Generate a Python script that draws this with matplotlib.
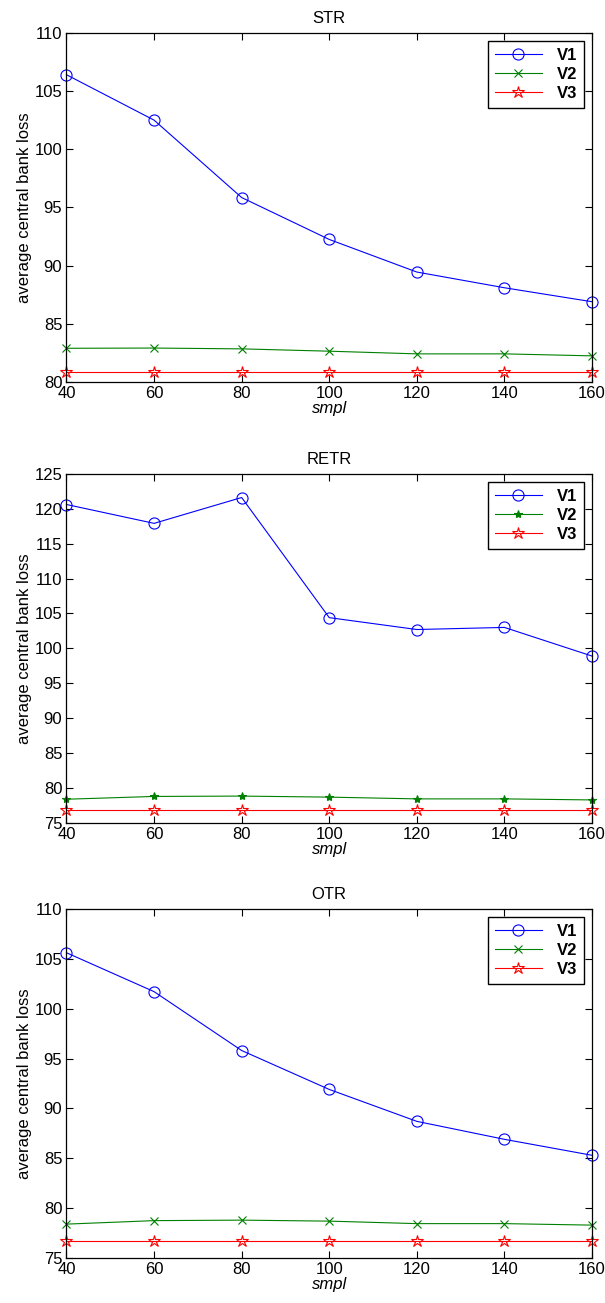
import matplotlib
matplotlib.use("Agg")
import matplotlib.pyplot as plt

plt.rcParams['font.family'] = ['Liberation Sans', 'DejaVu Sans']

smpl = [40, 60, 80, 100, 120, 140, 160]
titles = ["STR", "RETR", "OTR"]

str_v1 = [106.4, 102.5, 95.85, 92.25, 89.45, 88.1, 86.9]
str_v2 = [82.9, 82.92, 82.85, 82.65, 82.42, 82.42, 82.25]
str_v3 = [80.9, 80.9, 80.9, 80.9, 80.9, 80.9, 80.9]

retr_v1 = [120.6, 117.9, 121.6, 104.4, 102.7, 103.0, 98.9]
retr_v2 = [78.4, 78.8, 78.85, 78.7, 78.45, 78.45, 78.3]
retr_v3 = [76.8, 76.8, 76.8, 76.8, 76.8, 76.8, 76.8]

otr_v1 = [105.6, 101.7, 95.8, 91.9, 88.7, 86.9, 85.3]
otr_v2 = [78.4, 78.75, 78.8, 78.7, 78.45, 78.45, 78.3]
otr_v3 = [76.75, 76.75, 76.75, 76.75, 76.75, 76.75, 76.75]

ylims = [(80, 110), (75, 125), (75, 110)]
yticks = [list(range(80, 111, 5)), list(range(75, 126, 5)), list(range(75, 111, 5))]
v2_markers = ['x', '*', 'x']
data = [(str_v1, str_v2, str_v3), (retr_v1, retr_v2, retr_v3), (otr_v1, otr_v2, otr_v3)]

fig = plt.figure(figsize=(6.05, 13.03), dpi=100)
bottoms = [0.7068, 0.3684, 0.0345]
for i in range(3):
    ax = fig.add_axes([0.1099, bottoms[i], 0.8686, 0.268])
    v1, v2, v3 = data[i]
    ax.plot(smpl, v1, color='#0000ff', marker='o', markersize=8, markerfacecolor='none',
            markeredgewidth=0.8, linewidth=0.8, label='V1', clip_on=False)
    ax.plot(smpl, v2, color='#008000', marker=v2_markers[i], markersize=6,
            markeredgewidth=0.8, linewidth=0.8, label='V2', clip_on=False)
    ax.plot(smpl, v3, color='#ff0000', marker='*', markersize=9, markerfacecolor='none',
            markeredgewidth=0.8, linewidth=0.8, label='V3', clip_on=False)
    ax.set_xlim(40, 160)
    ax.set_ylim(*ylims[i])
    ax.set_xticks(smpl)
    ax.set_yticks(yticks[i])
    ax.tick_params(direction='in', top=True, right=True, labelsize=12, length=5, width=0.8, pad=3)
    for s in ax.spines.values():
        s.set_linewidth(0.9)
    ax.set_title(titles[i], fontsize=12, pad=7)
    ax.set_xlabel('smpl', fontsize=12, style='italic', labelpad=0)
    ax.set_ylabel('average central bank loss', fontsize=12, labelpad=2)
    leg = ax.legend(loc='upper right', fancybox=False, framealpha=1, edgecolor='black',
                    prop={'weight': 'bold', 'size': 12}, handlelength=2.8,
                    borderaxespad=0.5, labelspacing=0.25, borderpad=0.4, handletextpad=0.9)
    leg.get_frame().set_linewidth(1.0)

fig.savefig('out.png', dpi=100)
